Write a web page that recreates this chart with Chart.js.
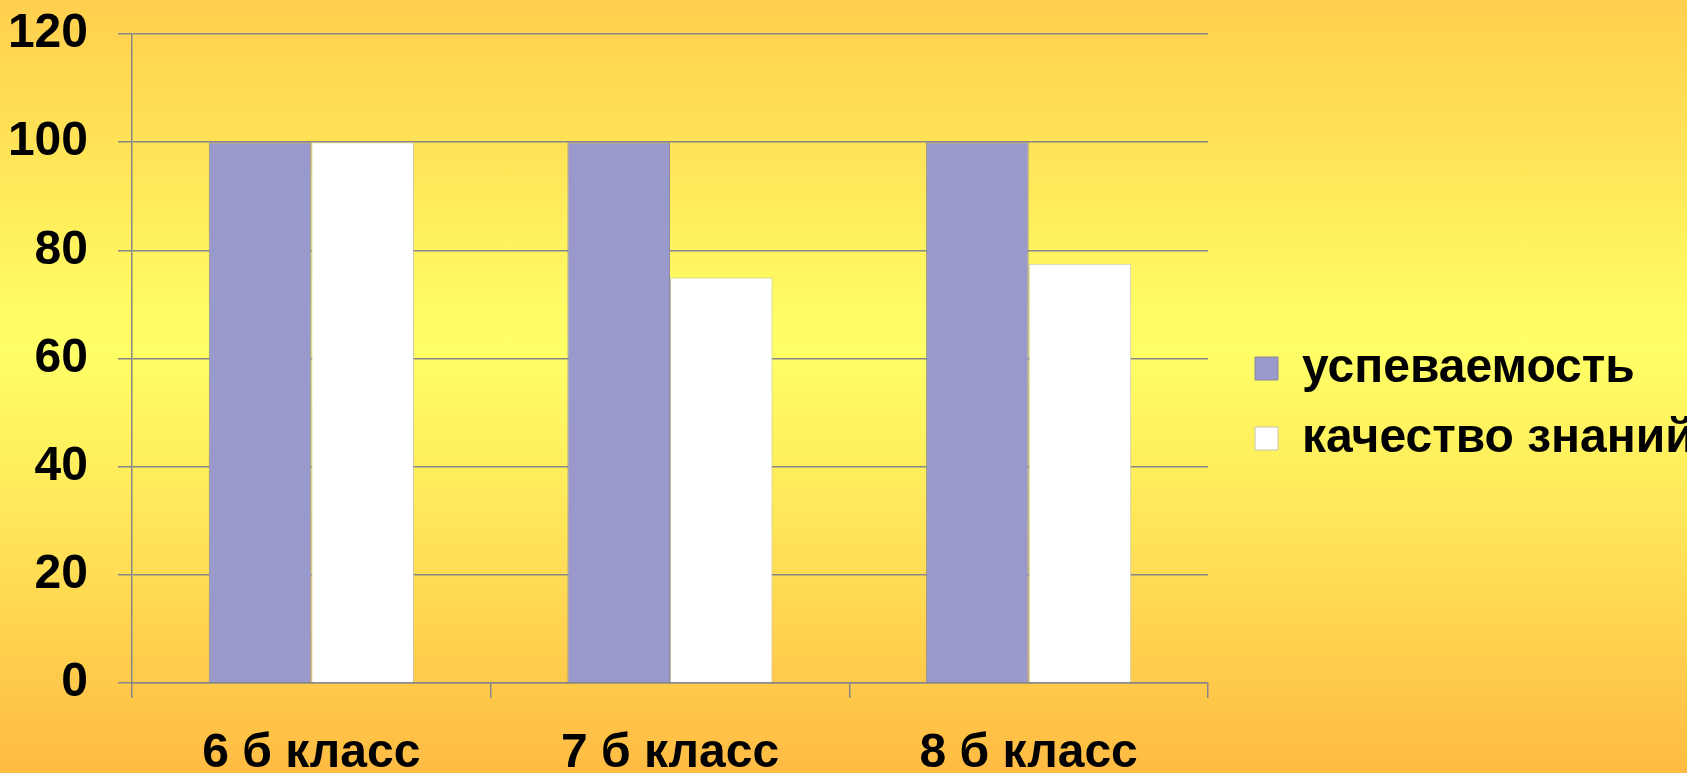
<!DOCTYPE html>
<html lang="ru">
<head>
<meta charset="utf-8">
<title>Успеваемость и качество знаний</title>
<script src="https://cdn.jsdelivr.net/npm/chart.js@4/dist/chart.umd.min.js"></script>
<style>
    html, body {
        margin: 0;
        padding: 0;
        width: 1687px;
        height: 773px;
        overflow: hidden;
    }
    body {
        background: linear-gradient(to bottom,
            #ffcf4e 0%, #ffe457 20%, #fffc64 40%, #ffff66 45%,
            #ffe95a 65%, #ffce4d 85%, #ffbb43 100%);
    }
    #wrap {
        position: relative;
        width: 1687px;
        height: 773px;
    }
</style>
</head>
<body>
<div id="wrap"><canvas id="classChart"></canvas></div>
<script>
    // Данные диаграммы
    const classes = ['6 б класс', '7 б класс', '8 б класс'];
    const seriesNames = ['успеваемость', 'качество знаний'];
    const progressValues = [100, 100, 100];
    const qualityValues = [100, 75, 77.5];
    const yTicks = [0, 20, 40, 60, 80, 100, 120];

    const gridGray = '#878787';
    const font48 = { family: "'Liberation Sans', Arial, sans-serif", size: 48, weight: 'bold' };

    // убираем автоматические отступы осей, чтобы область графика стояла точно
    const noPad = (scale) => {
        scale.paddingTop = 0;
        scale.paddingBottom = 0;
    };

    const ctx = document.getElementById('classChart').getContext('2d');
    const chart = new Chart(ctx, {
        type: 'bar',
        data: {
            labels: classes,
            datasets: [
                {
                    label: seriesNames[0],
                    data: progressValues,
                    backgroundColor: '#9999cc',
                    borderColor: '#8a8a9c',
                    borderWidth: 1,
                    categoryPercentage: 0.572,
                    barPercentage: 1.0
                },
                {
                    label: seriesNames[1],
                    data: qualityValues,
                    backgroundColor: '#ffffff',
                    borderColor: '#c4c4b4',
                    borderWidth: 1,
                    categoryPercentage: 0.572,
                    barPercentage: 1.0
                }
            ]
        },
        options: {
            responsive: true,
            maintainAspectRatio: false,
            animation: false,
            layout: {
                padding: { top: 34, left: 0, right: 0, bottom: 0 }
            },
            plugins: {
                tooltip: { enabled: false },
                legend: {
                    position: 'right',
                    maxWidth: 454,
                    labels: {
                        color: '#000000',
                        font: font48,
                        boxWidth: 23,
                        boxHeight: 23,
                        padding: 22
                    }
                }
            },
            scales: {
                x: {
                    grid: {
                        display: true,
                        drawOnChartArea: false,
                        drawTicks: true,
                        tickLength: 15,
                        color: gridGray,
                        lineWidth: 1.5
                    },
                    border: { display: true, color: gridGray, width: 1.5 },
                    ticks: {
                        color: '#000000',
                        font: font48,
                        padding: 27,
                        maxRotation: 0
                    },
                    afterFit: (scale) => { scale.height = 90; }
                },
                y: {
                    min: 0,
                    max: 120,
                    afterBuildTicks: (scale) => {
                        scale.ticks = yTicks.map(v => ({ value: v }));
                    },
                    grid: {
                        color: gridGray,
                        lineWidth: 1.5,
                        tickLength: 14
                    },
                    border: { display: true, color: gridGray, width: 1.5 },
                    ticks: {
                        color: '#000000',
                        font: font48,
                        padding: 30
                    },
                    afterFit: (scale) => {
                        scale.width = 132;
                        noPad(scale);
                    }
                },
                // пустая ось справа - отступ между графиком и легендой
                gap: {
                    type: 'linear',
                    position: 'right',
                    display: true,
                    grid: { display: false },
                    border: { display: false },
                    ticks: { display: false },
                    afterFit: (scale) => {
                        scale.width = 25;
                        noPad(scale);
                    }
                }
            }
        }
    });
</script>
</body>
</html>
